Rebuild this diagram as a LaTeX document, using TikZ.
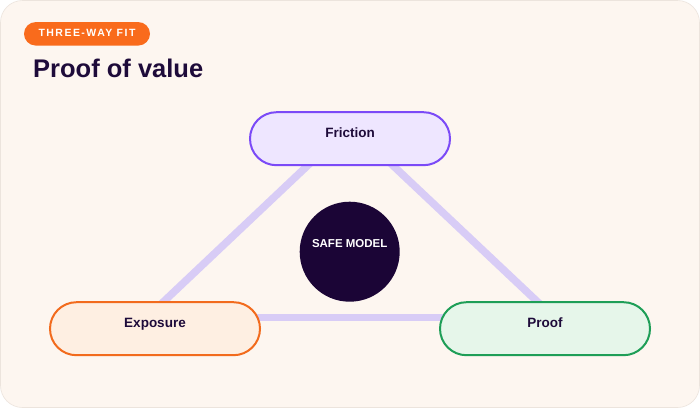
\documentclass[tikz,border=0pt]{standalone}
\usepackage{fontspec}
\setmainfont{Liberation Sans}
\usetikzlibrary{calc,shapes.misc}
\definecolor{bgc}{HTML}{FDF6F0}
\definecolor{cardline}{HTML}{ECE4DD}
\definecolor{badgec}{HTML}{F96B1C}
\definecolor{titlec}{HTML}{1E0B3A}
\definecolor{fricfill}{HTML}{EEE6FF}
\definecolor{fricdraw}{HTML}{7B4AF7}
\definecolor{expofill}{HTML}{FEEFE2}
\definecolor{expodraw}{HTML}{F26B1D}
\definecolor{prooffill}{HTML}{E6F6EA}
\definecolor{proofdraw}{HTML}{1E9E57}
\definecolor{corec}{HTML}{1B0536}
\definecolor{linkc}{HTML}{D8CCF6}
\pgfdeclarelayer{back}
\pgfdeclarelayer{links}
\pgfsetlayers{back,links,main}
\tikzset{
  pill/.style={rounded rectangle, minimum width=#1, minimum height=53pt, line width=2pt,
    inner sep=0pt, text height=8pt, text depth=10.8pt, text=titlec,
    font=\fontsize{13.5pt}{16pt}\selectfont\bfseries},
  link/.style={draw=linkc, line width=7.5pt},
}
\begin{document}
\begin{tikzpicture}[x=1pt,y=-1pt]
\useasboundingbox (0,0) rectangle (700,408);
\begin{pgfonlayer}{back}
\fill[white] (0,0) rectangle (700,408);
\draw[fill=bgc, draw=cardline, line width=0.6pt, rounded corners=22pt] (0.5,0.5) rectangle (699.5,407.5);
\end{pgfonlayer}
% badge
\node[rounded rectangle, fill=badgec, minimum width=126pt, minimum height=23.5pt, inner sep=0pt,
  text=white, text height=6.5pt, text depth=1.5pt,
  font=\fontsize{10.5pt}{12pt}\selectfont\bfseries\addfontfeature{LetterSpace=14}] (badge) at (87,33.8) {THREE-WAY FIT};
% title
\node[anchor=base west, inner sep=0pt, text=titlec, font=\fontsize{25.5pt}{30pt}\selectfont\bfseries] (title) at (33,77.3) {Proof of value};
% nodes
\node[pill=200pt, fill=fricfill, draw=fricdraw] (fric) at (350,138.7) {Friction};
\node[pill=210pt, fill=expofill, draw=expodraw] (expo) at (155,328.7) {Exposure};
\node[pill=210pt, fill=prooffill, draw=proofdraw] (proof) at (545,328.7) {Proof};
\node[circle, fill=corec, minimum size=100pt, inner sep=0pt, text=white, text height=7pt, text depth=15.8pt,
  font=\fontsize{11.5pt}{14pt}\selectfont\bfseries] (core) at (349.7,251.7) {SAFE MODEL};
% links
\begin{pgfonlayer}{links}
\draw[link] ($(fric.center)+(-14,0)$) -- ($(expo.center)+(-20,0)$);
\draw[link] ($(fric.center)+(14.5,0)$) -- ($(proof.center)+(21,0)$);
\draw[link] ($(expo.center)+(0,-11)$) -- ($(proof.center)+(0,-11)$);
\end{pgfonlayer}
\end{tikzpicture}
\end{document}
